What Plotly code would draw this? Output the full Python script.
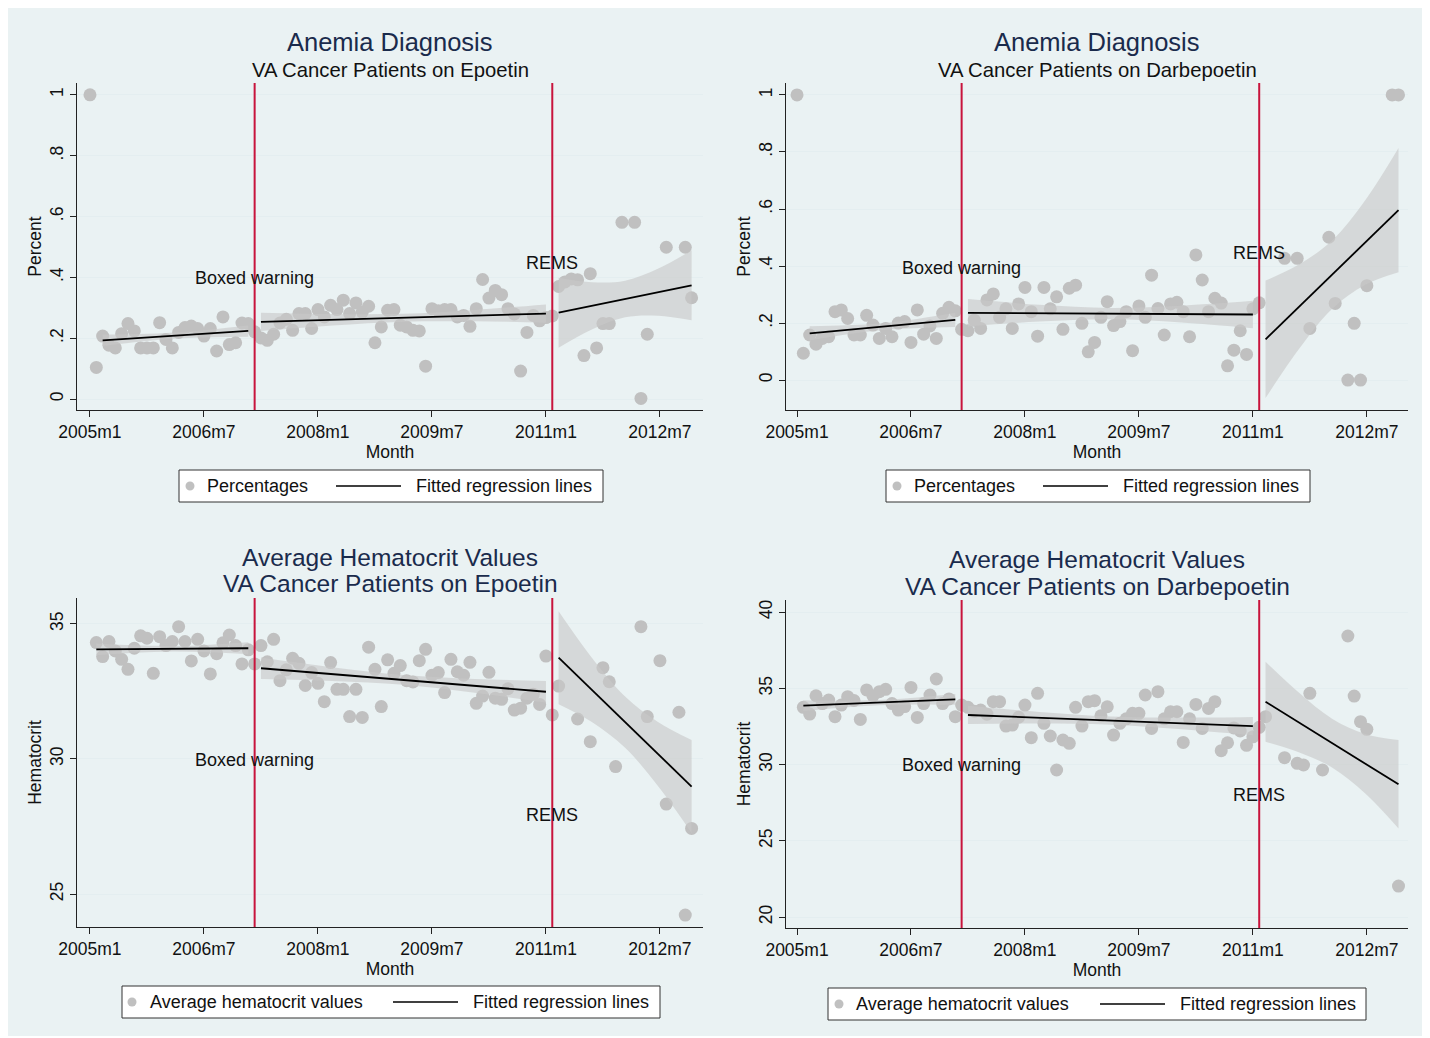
import plotly.graph_objects as go

# ---------------- data (month index: 0 = 2005m1) ----------------
TICK_MONTHS = [0, 18, 36, 54, 72, 90]
TICK_LABELS = ["2005m1", "2006m7", "2008m1", "2009m7", "2011m1", "2012m7"]
EVENT_MONTHS = [26, 73]
EVENT_LABELS = ["Boxed warning", "REMS"]

# Anemia diagnosis, Epoetin (top-left)
MONTHS_TL = list(range(0, 75)) + [75, 76, 77, 78, 79, 80, 81, 82, 84, 86, 87, 88, 91, 94, 95]
VALUES_TL = [1.0, 0.104, 0.207, 0.177, 0.168, 0.215, 0.248, 0.224, 0.168, 0.168,
             0.168, 0.251, 0.196, 0.168, 0.219, 0.235, 0.240, 0.232, 0.207, 0.232,
             0.158, 0.270, 0.179, 0.185, 0.250, 0.248, 0.221, 0.201, 0.193, 0.213,
             0.250, 0.262, 0.226, 0.281, 0.281, 0.232, 0.294, 0.270, 0.308, 0.294,
             0.325, 0.281, 0.316, 0.286, 0.305, 0.185, 0.237, 0.292, 0.294, 0.243,
             0.237, 0.226, 0.224, 0.108, 0.297, 0.290, 0.294, 0.294, 0.270, 0.275,
             0.239, 0.297, 0.393, 0.332, 0.357, 0.343, 0.297, 0.280, 0.092, 0.219,
             0.275, 0.257, 0.268, 0.273, 0.370,
             0.385, 0.395, 0.392, 0.143, 0.412, 0.168, 0.248, 0.248, 0.581, 0.581,
             0.002, 0.213, 0.499, 0.499, 0.333]

# Anemia diagnosis, Darbepoetin (top-right)
MONTHS_TR = list(range(0, 74)) + [77, 79, 81, 84, 85, 87, 88, 89, 90, 94, 95]
VALUES_TR = [1.0, 0.094, 0.158, 0.126, 0.146, 0.152, 0.240, 0.246, 0.216, 0.158,
             0.158, 0.227, 0.193, 0.146, 0.181, 0.152, 0.200, 0.205, 0.132, 0.246,
             0.161, 0.190, 0.146, 0.234, 0.255, 0.243, 0.178, 0.173, 0.210, 0.181,
             0.281, 0.302, 0.220, 0.250, 0.181, 0.267, 0.325, 0.240, 0.154, 0.325,
             0.250, 0.292, 0.178, 0.322, 0.333, 0.199, 0.099, 0.132, 0.220, 0.275,
             0.191, 0.205, 0.240, 0.103, 0.260, 0.220, 0.368, 0.251, 0.158, 0.267,
             0.273, 0.240, 0.152, 0.439, 0.351, 0.240, 0.287, 0.270, 0.050, 0.105,
             0.173, 0.090, 0.250, 0.271,
             0.427, 0.427, 0.181, 0.501, 0.269, 0.0, 0.199, 0.0, 0.331, 1.0, 1.0]

# Average hematocrit, Epoetin (bottom-left)
MONTHS_BL = list(range(1, 75)) + [77, 79, 81, 82, 83, 87, 88, 90, 91, 93, 94, 95]
VALUES_BL = [34.31, 33.79, 34.35, 34.00, 33.69, 33.32, 34.10, 34.56, 34.47, 33.17,
             34.53, 34.20, 34.35, 34.90, 34.35, 33.63, 34.43, 34.00, 33.15, 33.90,
             34.30, 34.59, 34.20, 33.52, 34.04, 33.52, 34.20, 33.60, 34.43, 32.90,
             33.30, 33.73, 33.54, 32.72, 33.20, 32.80, 32.12, 33.57, 32.58, 32.58,
             31.57, 32.58, 31.54, 34.14, 33.32, 31.94, 33.67, 33.17, 33.46, 32.90,
             32.85, 33.64, 34.06, 33.10, 33.20, 32.46, 33.69, 33.23, 33.10, 33.58,
             32.06, 32.33, 33.21, 32.25, 32.21, 32.60, 31.81, 31.88, 32.25, 32.40,
             32.02, 33.81, 31.63, 32.70,
             31.48, 30.64, 33.38, 32.86, 29.72, 34.90, 31.57, 33.64, 28.33, 31.73,
             24.22, 27.43]

# Average hematocrit, Darbepoetin (bottom-right)
MONTHS_BR = list(range(1, 75)) + [77, 79, 80, 81, 83, 87, 88, 89, 90, 95]
VALUES_BR = [33.75, 33.31, 34.51, 34.00, 34.23, 33.14, 33.90, 34.45, 34.20, 32.96,
             34.89, 34.50, 34.78, 34.93, 34.00, 33.57, 33.80, 35.06, 33.09, 34.00,
             34.56, 35.61, 34.00, 34.30, 33.14, 33.90, 33.75, 33.50, 33.57, 33.30,
             34.12, 34.12, 32.52, 32.59, 33.10, 33.90, 31.76, 34.67, 32.70, 31.87,
             29.64, 31.61, 31.39, 33.75, 32.52, 34.12, 34.19, 33.20, 33.79, 31.93,
             32.70, 33.00, 33.36, 33.36, 34.56, 32.37, 34.78, 33.00, 33.46, 33.46,
             31.45, 33.00, 33.94, 32.37, 33.68, 34.12, 30.91, 31.43, 32.40, 32.20,
             31.26, 31.82, 32.44, 33.14,
             30.45, 30.08, 29.97, 34.67, 29.64, 38.43, 34.49, 32.81, 32.31, 22.03]

# Fitted regression lines (endpoints) and 95% CI bands read at knots
SEG_KNOTS_A = [[2, 7.75, 13.5, 19.25, 25], [27, 38.25, 49.5, 60.75, 72], [74, 79.25, 84.5, 89.75, 95]]
SEG_KNOTS_B = [[1, 7, 13, 19, 25], [27, 38.25, 49.5, 60.75, 72], [74, 79.25, 84.5, 89.75, 95]]

FIT_TL = [[0.193, 0.224], [0.254, 0.281], [0.284, 0.374]]
LO_TL = [[0.174, 0.188, 0.199, 0.2035, 0.205], [0.224, 0.242, 0.2545, 0.2555, 0.251], [0.169, 0.229, 0.269, 0.274, 0.259]]
HI_TL = [[0.212, 0.214, 0.219, 0.229, 0.243], [0.284, 0.2796, 0.2805, 0.293, 0.311], [0.399, 0.384, 0.389, 0.429, 0.489]]

FIT_TR = [[0.164, 0.211], [0.236, 0.230], [0.143, 0.596]]
LO_TR = [[0.139, 0.1595, 0.1755, 0.183, 0.186], [0.188, 0.205, 0.213, 0.202, 0.182], [-0.063, 0.108, 0.2495, 0.334, 0.378]]
HI_TR = [[0.189, 0.192, 0.1995, 0.2155, 0.236], [0.284, 0.264, 0.253, 0.261, 0.278], [0.349, 0.405, 0.4895, 0.631, 0.814]]

FIT_BL = [[34.06, 34.10], [33.36, 32.49], [33.75, 28.98]]
LO_BL = [[33.84, 33.93, 33.98, 33.95, 33.88], [32.96, 32.89, 32.745, 32.454, 32.09], [32.03, 31.37, 30.415, 28.98, 27.26]]
HI_BL = [[34.28, 34.21, 34.18, 34.23, 34.32], [33.76, 33.40, 33.105, 32.961, 32.89], [35.47, 33.75, 32.315, 31.36, 30.70]]

FIT_BR = [[33.86, 34.27], [33.25, 32.52], [34.12, 28.70]]
LO_BR = [[33.51, 33.73, 33.895, 33.94, 33.92], [32.65, 32.69, 32.615, 32.32, 31.92], [31.50, 30.81, 29.81, 28.10, 25.81]]
HI_BR = [[34.21, 34.19, 34.235, 34.40, 34.62], [33.85, 33.45, 33.155, 33.08, 33.12], [36.74, 34.72, 33.01, 32.01, 31.61]]

# ---------------- styling ----------------
W, H = 1430, 1038
OFF = 8  # browser body margin
FONT = "Liberation Sans, Arial, sans-serif"
BG = "#EAF2F3"
NAVY = "#1A2B4C"
DOT = "#C0C0C0"
BAND = "rgba(200,200,200,0.62)"
RED = "#C8143C"
TXT = "#111111"


def px(x):
    return (x - OFF) / W


def py(y):
    return 1 - (y - OFF) / H


panels = [
    dict(ax="", months=MONTHS_TL, vals=VALUES_TL, knots=SEG_KNOTS_A, fit=FIT_TL, lo=LO_TL, hi=HI_TL,
         xdom=[77, 703], ydom=[83, 410], xr=[-2.05, 96.8], yr=[-0.036, 1.039],
         yt=[0, 0.2, 0.4, 0.6, 0.8, 1.0], ytt=["0", ".2", ".4", ".6", ".8", "1"], ytitle="Percent",
         ann=[0.398, 0.447], legname="Percentages",
         box=[179, 603, 470, 502], dotx=190, t1x=205, lnx=[336, 401], t2x=414,
         titles=[("Anemia Diagnosis", 42, 25.5, NAVY), ("VA Cancer Patients on Epoetin", 70, 20.3, TXT)], tx=390),
    dict(ax="2", months=MONTHS_TR, vals=VALUES_TR, knots=SEG_KNOTS_A, fit=FIT_TR, lo=LO_TR, hi=HI_TR,
         xdom=[786, 1408], ydom=[83, 410], xr=[-1.74, 96.5], yr=[-0.105, 1.042],
         yt=[0, 0.2, 0.4, 0.6, 0.8, 1.0], ytt=["0", ".2", ".4", ".6", ".8", "1"], ytitle="Percent",
         ann=[0.393, 0.446], legname="Percentages",
         box=[886, 1310, 470, 502], dotx=897, t1x=912, lnx=[1043, 1108], t2x=1121,
         titles=[("Anemia Diagnosis", 42, 25.5, NAVY), ("VA Cancer Patients on Darbepoetin", 70, 20.3, TXT)], tx=1097),
    dict(ax="3", months=MONTHS_BL, vals=VALUES_BL, knots=SEG_KNOTS_B, fit=FIT_BL, lo=LO_BL, hi=HI_BL,
         xdom=[77, 703], ydom=[598, 927], xr=[-2.05, 96.8], yr=[23.78, 35.96],
         yt=[25, 30, 35], ytt=["25", "30", "35"], ytitle="Hematocrit",
         ann=[29.96, 27.93], legname="Average hematocrit values",
         box=[122, 660, 986, 1018], dotx=132, t1x=148, lnx=[393, 458], t2x=471,
         titles=[("Average Hematocrit Values", 557, 24.5, NAVY), ("VA Cancer Patients on Epoetin", 584, 24.5, NAVY)], tx=390),
    dict(ax="4", months=MONTHS_BR, vals=VALUES_BR, knots=SEG_KNOTS_B, fit=FIT_BR, lo=LO_BR, hi=HI_BR,
         xdom=[786, 1408], ydom=[600, 928], xr=[-1.74, 96.5], yr=[19.28, 40.79],
         yt=[20, 25, 30, 35, 40], ytt=["20", "25", "30", "35", "40"], ytitle="Hematocrit",
         ann=[29.97, 28.0], legname="Average hematocrit values",
         box=[828, 1366, 988, 1020], dotx=839, t1x=854, lnx=[1100, 1165], t2x=1178,
         titles=[("Average Hematocrit Values", 559, 24.5, NAVY), ("VA Cancer Patients on Darbepoetin", 586, 24.5, NAVY)], tx=1097),
]

fig = go.Figure()
layout = dict(
    width=W, height=H, margin=dict(l=0, r=0, t=0, b=0, autoexpand=False),
    paper_bgcolor="white", plot_bgcolor="white",
    font=dict(family=FONT, size=18, color=TXT),
    showlegend=False, shapes=[], annotations=[],
)

layout["shapes"].append(dict(type="rect", xref="paper", yref="paper", x0=px(8), x1=px(1428),
                             y0=py(1036), y1=py(8), fillcolor=BG, line=dict(width=0), layer="below"))

for p in panels:
    xa = "x" + p["ax"]
    ya = "y" + p["ax"]
    # scatter points
    fig.add_trace(go.Scatter(x=p["months"], y=p["vals"], mode="markers", name=p["legname"],
                             marker=dict(color=DOT, size=13, line=dict(width=0)),
                             xaxis=xa, yaxis=ya))
    # CI bands
    for kn, lo, hi in zip(p["knots"], p["lo"], p["hi"]):
        fig.add_trace(go.Scatter(x=kn, y=lo, mode="lines", line=dict(width=0, shape="spline"),
                                 hoverinfo="skip", xaxis=xa, yaxis=ya, name="95% CI"))
        fig.add_trace(go.Scatter(x=kn, y=hi, mode="lines", line=dict(width=0, shape="spline"),
                                 fill="tonexty", fillcolor=BAND, hoverinfo="skip",
                                 xaxis=xa, yaxis=ya, name="95% CI"))
    # fitted lines
    for kn, f in zip(p["knots"], p["fit"]):
        fig.add_trace(go.Scatter(x=[kn[0], kn[-1]], y=f, mode="lines", name="Fitted regression lines",
                                 line=dict(color="black", width=1.8), xaxis=xa, yaxis=ya))

    xkey = "xaxis" + p["ax"]
    ykey = "yaxis" + p["ax"]
    layout[xkey] = dict(domain=[px(p["xdom"][0]), px(p["xdom"][1])], range=p["xr"], anchor=ya,
                        tickvals=TICK_MONTHS, ticktext=TICK_LABELS, ticks="outside", ticklen=6,
                        tickcolor="#222", showline=True, linecolor="#222", linewidth=1,
                        showgrid=False, zeroline=False, tickfont=dict(size=17.5), automargin=False,
                        title=dict(text="Month", font=dict(size=17.5), standoff=2))
    layout[ykey] = dict(domain=[py(p["ydom"][1]), py(p["ydom"][0])], range=p["yr"], anchor=xa,
                        tickvals=p["yt"], ticktext=p["ytt"], tickangle=-90, ticks="outside", ticklen=6,
                        tickcolor="#222", showline=True, linecolor="#222", linewidth=1,
                        showgrid=True, gridcolor="#E4EEF0", gridwidth=1, zeroline=False,
                        tickfont=dict(size=17.5), automargin=False,
                        title=dict(text=p["ytitle"], font=dict(size=17.5), standoff=0))
    # event lines and labels
    for m, lab, yv in zip(EVENT_MONTHS, EVENT_LABELS, p["ann"]):
        layout["shapes"].append(dict(type="line", xref=xa, yref=ya + " domain", x0=m, x1=m, y0=0, y1=1,
                                     line=dict(color=RED, width=2), layer="above"))
        layout["annotations"].append(dict(x=m, y=yv, xref=xa, yref=ya, text=lab, showarrow=False,
                                          font=dict(size=18, color=TXT), xanchor="center", yanchor="middle"))
    # titles
    for txt, yy, sz, col in p["titles"]:
        layout["annotations"].append(dict(x=px(p["tx"]), y=py(yy), xref="paper", yref="paper", text=txt,
                                          showarrow=False, font=dict(size=sz, color=col),
                                          xanchor="center", yanchor="middle"))
    # legend box (Stata-style key)
    bx0, bx1, by0, by1 = p["box"]
    cy = (by0 + by1) / 2
    layout["shapes"].append(dict(type="rect", xref="paper", yref="paper", x0=px(bx0), x1=px(bx1),
                                 y0=py(by1), y1=py(by0), fillcolor="white",
                                 line=dict(color="#333333", width=1)))
    r = 4.5
    layout["shapes"].append(dict(type="circle", xref="paper", yref="paper",
                                 x0=px(p["dotx"] - r), x1=px(p["dotx"] + r),
                                 y0=py(cy + r), y1=py(cy - r), fillcolor=DOT, line=dict(width=0)))
    layout["shapes"].append(dict(type="line", xref="paper", yref="paper",
                                 x0=px(p["lnx"][0]), x1=px(p["lnx"][1]), y0=py(cy), y1=py(cy),
                                 line=dict(color="black", width=1.5)))
    layout["annotations"].append(dict(x=px(p["t1x"]), y=py(cy), xref="paper", yref="paper",
                                      text=p["legname"], showarrow=False, font=dict(size=18, color=TXT),
                                      xanchor="left", yanchor="middle"))
    layout["annotations"].append(dict(x=px(p["t2x"]), y=py(cy), xref="paper", yref="paper",
                                      text="Fitted regression lines", showarrow=False,
                                      font=dict(size=18, color=TXT), xanchor="left", yanchor="middle"))

fig.update_layout(**layout)
fig.write_html("out.html")
